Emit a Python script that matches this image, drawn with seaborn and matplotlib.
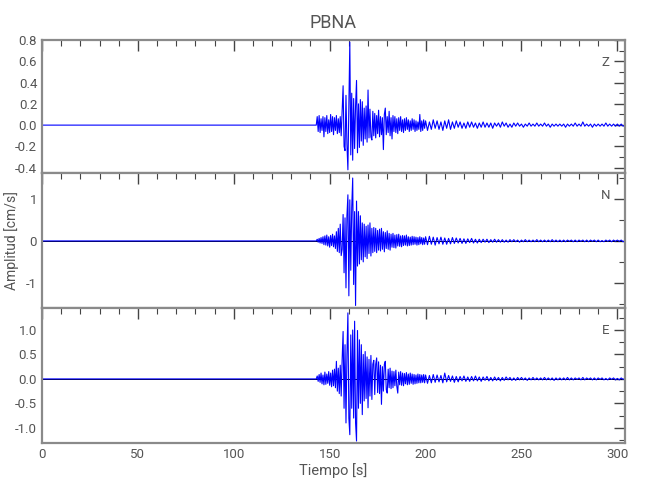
import numpy as np
import pandas as pd
import seaborn as sns
import matplotlib
matplotlib.use("Agg")
import matplotlib.pyplot as plt
from matplotlib.ticker import MultipleLocator, FormatStrFormatter

# sample times [s]: flat pre-event, dense strong motion, sparser coda
t_pre = [0.0]
t_strong = np.arange(143.0, 200.0, 0.5)
t_tail = np.arange(200.0, 305.0, 1.0)

# amplitudes, in 0.01 cm/s
z_strong = [0, 8, -6, 9, -7, 6, -5, 8, -11, 7,
            -6, 9, -8, 5, -7, 10, -6, 8, -9, 7,
            -5, 9, -8, 6, -7, 8, -10, 14, 37, -20,
            -24, 28, -18, -42, 20, 78, -28, 30, -33, 25,
            -22, 18, 42, -26, 20, -21, 24, -15, 22, -19,
            16, -13, 18, -16, 33, -12, 15, -11, -14, 13,
            -10, 11, -12, 9, -8, 14, -11, 8, -9, 7,
            -23, 10, 16, -9, 8, -7, 13, -10, 7, -13,
            9, -6, 8, -7, 6, -8, 7, -5, 8, -6,
            5, -7, 6, -5, 7, -4, 5, -6, 4, -5,
            6, -4, 5, -6, 4, -5, 3, -4, 10, -6,
            4, -5, 5, -3]
z_tail = [4, -5, 3, -4, 5, -3, 4, -4, 3, -5,
          4, -3, 5, -4, 3, -3, 4, -2, 3, -3,
          2, -3, 3, -2, 3, -2, 2, -3, 2, -2,
          3, -2, 2, -2, 2, -3, 2, -1, 2, -2,
          3, -1, 2, -2, 1, -2, 2, -1, 2, -1,
          1, -2, 1, -1, 2, -1, 1, -1, 2, -1,
          1, -1, 2, -1, 1, -2, 1, -1, 1, -1,
          1, -1, 1, -2, 1, -1, 1, -1, 2, -1,
          1, -1, 3, -1, 1, -1, 1, -2, 1, -1,
          1, -1, 1, -1, 2, -1, 1, -1, 1, -1,
          1, -1, 1, -1, 0]

n_strong = [0, 4, -3, 6, -5, 8, -6, 10, -9, 12,
            -10, 14, -12, 10, -15, 13, -11, 16, -14, 12,
            -18, 22, -25, 30, -28, 40, -35, -20, 63, -76,
            55, -112, 60, 110, -131, 98, -70, 80, 150, -104,
            70, -154, 95, -60, 70, -55, 60, -45, 43, -50,
            40, -38, 35, -42, 38, -30, 43, -36, 30, -28,
            32, -25, 30, -28, 25, -22, 28, -24, 30, -20,
            22, -26, 20, -18, 24, -20, 18, -22, 16, -15,
            18, -16, 14, -17, 15, -12, 16, -13, 12, -14,
            13, -11, 12, -10, 14, -12, 10, -11, 9, -10,
            11, -9, 10, -8, 9, -10, 8, -9, 10, -7,
            8, -9, 7, -8]
n_tail = [10, -9, 11, -8, 9, -10, 8, -7, 9, -8,
          7, -8, 6, -7, 8, -6, 7, -5, 6, -6,
          5, -6, 5, -4, 6, -5, 4, -5, 4, -4,
          4, -3, 4, -4, 3, -3, 4, -3, 3, -3,
          3, -3, 2, -3, 3, -2, 3, -2, 2, -3,
          2, -2, 3, -2, 2, -2, 2, -2, 3, -2,
          2, -2, 2, -2, 2, -2, 3, -2, 2, -2,
          2, -2, 2, -2, 2, -1, 2, -2, 2, -2,
          2, -1, 2, -2, 2, -2, 2, -1, 2, -2,
          2, -2, 1, -2, 2, -1, 2, -2, 2, -1,
          2, -1, 2, -2, 1]

e_strong = [0, 6, -5, 9, -7, 12, -10, 8, -12, 14,
            -11, 10, -9, 15, -13, 12, -16, 18, -14, 20,
            -18, 36, -25, 22, -30, 28, -35, 40, 97, -60,
            70, -90, 50, 135, -80, -114, 90, -60, 100, -80,
            118, -90, -127, 99, -60, 80, -50, 70, -73, 50,
            -45, 56, -40, 45, -59, 40, -35, 48, -42, 30,
            38, -32, 30, 43, -28, 35, -30, 28, -52, 25,
            -25, 30, 36, -22, -29, 20, -18, 22, -20, 16,
            -18, 15, -14, 18, -15, -29, 14, -12, 15, -13,
            12, -14, 11, -10, 13, -12, 10, -11, 12, -9,
            10, -11, 9, -10, 8, -9, 10, -8, 9, -8,
            8, -7, 9, -8]
e_tail = [8, -9, 7, -8, 9, -7, 8, -6, 7, -8,
          12, -6, 7, -5, 6, -7, 5, -6, 5, -4,
          6, -5, 4, -5, 5, -4, 6, -4, 4, -5,
          4, -3, 5, -4, 3, -4, 4, -3, 3, -4,
          3, -3, 4, -2, 3, -3, 2, -3, 3, -2,
          3, -2, 2, -3, 2, -2, 3, -2, 2, -2,
          2, -2, 3, -2, 2, -2, 2, -3, 2, -2,
          2, -2, 2, -2, 3, -2, 2, -2, 2, -1,
          2, -2, 3, -2, 2, -1, 2, -2, 2, -2,
          2, -1, 2, -2, 1, -2, 2, -1, 2, -2,
          1, -2, 2, -1, 1]

components = ["Z", "N", "E"]
ylims = {"Z": (-0.45, 0.8), "N": (-1.6, 1.62), "E": (-1.31, 1.45)}
ymajor = {"Z": 0.2, "N": 1.0, "E": 0.5}
yminor = {"Z": 0.1, "N": 0.5, "E": 0.25}
yfmt = {"Z": "%.1f", "N": "%.0f", "E": "%.1f"}

t = np.concatenate([t_pre, t_strong, t_tail])
traces = {
    "Z": np.concatenate([[0], z_strong, z_tail]) / 100.0,
    "N": np.concatenate([[0], n_strong, n_tail]) / 100.0,
    "E": np.concatenate([[0], e_strong, e_tail]) / 100.0,
}

sns.set_style("white")
plt.rcParams["font.family"] = ["Liberation Sans Narrow", "Roboto", "DejaVu Sans"]
plt.rcParams["axes.unicode_minus"] = False

gray = "#8a8a8a"
tcol = "#555555"

fig = plt.figure(figsize=(6.5, 5), dpi=100)
boxes = [(0.0646, 0.654, 0.897, 0.266),
         (0.0646, 0.384, 0.897, 0.270),
         (0.0646, 0.114, 0.897, 0.270)]

for i, comp in enumerate(components):
    ax = fig.add_axes(boxes[i])
    if comp != "Z":
        ax.axhline(0, color="black", lw=0.7, zorder=1)
    df = pd.DataFrame({"t": t, "amp": traces[comp]})
    sns.lineplot(data=df, x="t", y="amp", ax=ax, estimator=None, sort=False,
                 color="blue", lw=0.8, zorder=2)
    ax.set_xlim(0, 304)
    ax.set_ylim(*ylims[comp])
    ax.xaxis.set_major_locator(MultipleLocator(50))
    ax.xaxis.set_minor_locator(MultipleLocator(10))
    ax.yaxis.set_major_locator(MultipleLocator(ymajor[comp]))
    ax.yaxis.set_minor_locator(MultipleLocator(yminor[comp]))
    ax.yaxis.set_major_formatter(FormatStrFormatter(yfmt[comp]))
    ax.tick_params(which="both", direction="in", top=True, right=True,
                   color="#444444", labelcolor=tcol, labelsize=9.5)
    ax.tick_params(which="major", length=8, width=1)
    ax.tick_params(which="minor", length=4, width=0.8)
    for s in ax.spines.values():
        s.set_color(gray)
        s.set_linewidth(1.6)
    ax.set_xlabel("")
    ax.set_ylabel("")
    if i < 2:
        ax.tick_params(labelbottom=False)
    ax.text(0.966, 0.83, comp, transform=ax.transAxes, ha="center",
            va="center", color=tcol, fontsize=9.5)

fig.text(0.513, 0.955, "PBNA", ha="center", va="center", color=tcol, fontsize=13)
fig.text(0.018, 0.518, "Amplitud [cm/s]", rotation=90, ha="center",
         va="center", color=tcol, fontsize=10)
fig.text(0.513, 0.058, "Tiempo [s]", ha="center", va="center", color=tcol,
         fontsize=10.5)

fig.savefig("out.png", dpi=100)
